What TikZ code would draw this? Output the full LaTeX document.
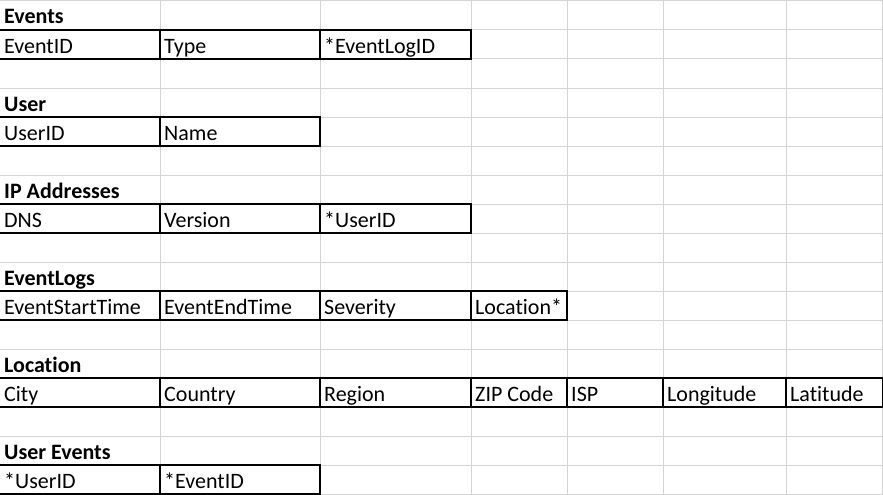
\documentclass[tikz,border=0pt]{standalone}
\usepackage{fontspec}
\setmainfont{Carlito}[Ligatures={NoCommon}]
\definecolor{gridgray}{HTML}{D4D4D4}
\tikzset{
  cell/.style={anchor=base west,inner sep=0pt,font=\fontsize{22}{26}\selectfont},
  head/.style={cell,font=\fontsize{22}{26}\selectfont\bfseries},
  tbl/.style={draw=black,line width=1.3pt}
}
\begin{document}
\begin{tikzpicture}[x=1pt,y=-1pt]
\useasboundingbox(0,0)rectangle(883,495);
% sheet grid
\foreach \r in {0,...,17}
  \draw[gridgray,line width=1pt](0,{1+29*\r})--(883,{1+29*\r});
\foreach \c in {160,320,471,567,663,786,882.5}
  \draw[gridgray,line width=1pt](\c,0)--(\c,495);
% table borders
\draw[tbl](-1.5,30)rectangle(471,59);
\draw[tbl](160,30)--(160,59)(320,30)--(320,59);
\draw[tbl](-1.5,117)rectangle(320,146);
\draw[tbl](160,117)--(160,146);
\draw[tbl](-1.5,204)rectangle(471,233);
\draw[tbl](160,204)--(160,233)(320,204)--(320,233);
\draw[tbl](-1.5,291)rectangle(567,320);
\draw[tbl](160,291)--(160,320)(320,291)--(320,320)(471,291)--(471,320);
\draw[tbl](-1.5,378)rectangle(882.5,407);
\foreach \c in {160,320,471,567,663,786}
  \draw[tbl](\c,378)--(\c,407);
\draw[tbl](-1.5,465)rectangle(320,494);
\draw[tbl](160,465)--(160,494);
% Events
\node[head](events) at(4,24){Events};
\node[cell](evid) at(4,53){EventID};
\node[cell](evtype) at(164,53){Type};
\node[cell](evlog) at(324,53){*EventLogID};
% User
\node[head](user) at(4,111){User};
\node[cell](usid) at(4,140){UserID};
\node[cell](usname) at(164,140){Name};
% IP Addresses
\node[head](ipaddr) at(4,198){IP Addresses};
\node[cell](ipdns) at(4,227){DNS};
\node[cell](ipver) at(164,227){Version};
\node[cell](ipuser) at(324,227){*UserID};
% EventLogs
\node[head](evlogs) at(4,285){EventLogs};
\node[cell](elstart) at(4,314){EventStartTime};
\node[cell](elend) at(164,314){EventEndTime};
\node[cell](elsev) at(324,314){Severity};
\node[cell](elloc) at(475,314){Location*};
% Location
\node[head](location) at(4,372){Location};
\node[cell](lcity) at(4,401){City};
\node[cell](lcountry) at(164,401){Country};
\node[cell](lregion) at(324,401){Region};
\node[cell](lzip) at(475,401){ZIP Code};
\node[cell](lisp) at(571,401){ISP};
\node[cell](llong) at(667,401){Longitude};
\node[cell](llat) at(790,401){Latitude};
% User Events
\node[head](userev) at(4,459){User Events};
\node[cell](ueuser) at(4,488){*UserID};
\node[cell](ueevent) at(164,488){*EventID};
\end{tikzpicture}
\end{document}
